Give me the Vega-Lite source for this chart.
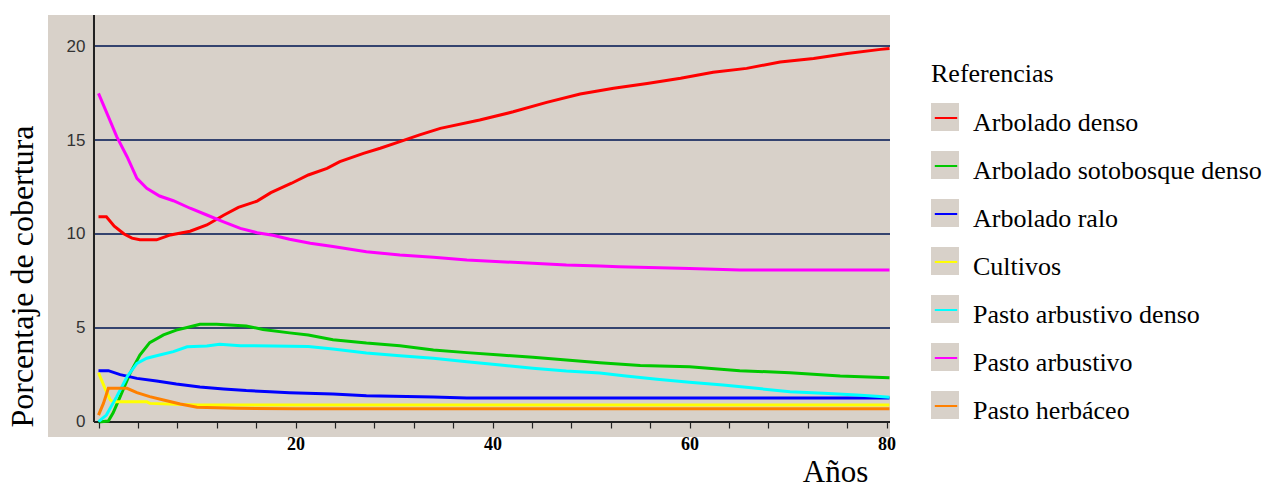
{
  "$schema": "https://vega.github.io/schema/vega-lite/v6.json",
  "width": 842,
  "height": 422,
  "autosize": {"type": "none"},
  "padding": {"left": 48, "top": 15, "right": 381, "bottom": 50},
  "background": "white",
  "config": {"view": {"fill": "#d8d1c9", "stroke": null}},
  "datasets": {
    "grid": [{"g": 5}, {"g": 10}, {"g": 15}, {"g": 20}],
    "series": [
      {"s": "Arbolado denso", "yr": 0, "v": 10.92}, {"s": "Arbolado denso", "yr": 0.8, "v": 10.92}, {"s": "Arbolado denso", "yr": 1.6, "v": 10.42}, {"s": "Arbolado denso", "yr": 2.6, "v": 10.0}, {"s": "Arbolado denso", "yr": 3.4, "v": 9.78}, {"s": "Arbolado denso", "yr": 4.2, "v": 9.69}, {"s": "Arbolado denso", "yr": 5.9, "v": 9.69}, {"s": "Arbolado denso", "yr": 7.3, "v": 9.95}, {"s": "Arbolado denso", "yr": 9.3, "v": 10.15}, {"s": "Arbolado denso", "yr": 11, "v": 10.48}, {"s": "Arbolado denso", "yr": 12.7, "v": 11.0}, {"s": "Arbolado denso", "yr": 14.2, "v": 11.42}, {"s": "Arbolado denso", "yr": 16.1, "v": 11.75}, {"s": "Arbolado denso", "yr": 17.5, "v": 12.2}, {"s": "Arbolado denso", "yr": 19.6, "v": 12.7}, {"s": "Arbolado denso", "yr": 21.3, "v": 13.14}, {"s": "Arbolado denso", "yr": 23.2, "v": 13.49}, {"s": "Arbolado denso", "yr": 24.5, "v": 13.85}, {"s": "Arbolado denso", "yr": 26.9, "v": 14.29}, {"s": "Arbolado denso", "yr": 28.6, "v": 14.56}, {"s": "Arbolado denso", "yr": 30.6, "v": 14.91}, {"s": "Arbolado denso", "yr": 32.6, "v": 15.27}, {"s": "Arbolado denso", "yr": 34.7, "v": 15.62}, {"s": "Arbolado denso", "yr": 38.7, "v": 16.06}, {"s": "Arbolado denso", "yr": 42.1, "v": 16.5}, {"s": "Arbolado denso", "yr": 45.5, "v": 17.0}, {"s": "Arbolado denso", "yr": 48.9, "v": 17.45}, {"s": "Arbolado denso", "yr": 52.3, "v": 17.75}, {"s": "Arbolado denso", "yr": 55.7, "v": 18.01}, {"s": "Arbolado denso", "yr": 59.1, "v": 18.28}, {"s": "Arbolado denso", "yr": 62.4, "v": 18.6}, {"s": "Arbolado denso", "yr": 65.8, "v": 18.81}, {"s": "Arbolado denso", "yr": 69.2, "v": 19.15}, {"s": "Arbolado denso", "yr": 72.6, "v": 19.34}, {"s": "Arbolado denso", "yr": 76, "v": 19.6}, {"s": "Arbolado denso", "yr": 79.4, "v": 19.82}, {"s": "Arbolado denso", "yr": 80.3, "v": 19.87},
      {"s": "Arbolado sotobosque denso", "yr": 0, "v": 0}, {"s": "Arbolado sotobosque denso", "yr": 1, "v": 0.05}, {"s": "Arbolado sotobosque denso", "yr": 1.5, "v": 0.5}, {"s": "Arbolado sotobosque denso", "yr": 2.2, "v": 1.35}, {"s": "Arbolado sotobosque denso", "yr": 3.2, "v": 2.59}, {"s": "Arbolado sotobosque denso", "yr": 4.2, "v": 3.56}, {"s": "Arbolado sotobosque denso", "yr": 5.2, "v": 4.22}, {"s": "Arbolado sotobosque denso", "yr": 6.6, "v": 4.63}, {"s": "Arbolado sotobosque denso", "yr": 7.9, "v": 4.89}, {"s": "Arbolado sotobosque denso", "yr": 9.3, "v": 5.07}, {"s": "Arbolado sotobosque denso", "yr": 10.3, "v": 5.2}, {"s": "Arbolado sotobosque denso", "yr": 12, "v": 5.2}, {"s": "Arbolado sotobosque denso", "yr": 15, "v": 5.11}, {"s": "Arbolado sotobosque denso", "yr": 16.7, "v": 4.92}, {"s": "Arbolado sotobosque denso", "yr": 19.4, "v": 4.74}, {"s": "Arbolado sotobosque denso", "yr": 21.3, "v": 4.63}, {"s": "Arbolado sotobosque denso", "yr": 23.8, "v": 4.38}, {"s": "Arbolado sotobosque denso", "yr": 27.2, "v": 4.2}, {"s": "Arbolado sotobosque denso", "yr": 30.6, "v": 4.06}, {"s": "Arbolado sotobosque denso", "yr": 34, "v": 3.83}, {"s": "Arbolado sotobosque denso", "yr": 37.4, "v": 3.69}, {"s": "Arbolado sotobosque denso", "yr": 40.8, "v": 3.56}, {"s": "Arbolado sotobosque denso", "yr": 44.1, "v": 3.44}, {"s": "Arbolado sotobosque denso", "yr": 47.5, "v": 3.3}, {"s": "Arbolado sotobosque denso", "yr": 50.9, "v": 3.15}, {"s": "Arbolado sotobosque denso", "yr": 55, "v": 3.0}, {"s": "Arbolado sotobosque denso", "yr": 60, "v": 2.94}, {"s": "Arbolado sotobosque denso", "yr": 65.1, "v": 2.73}, {"s": "Arbolado sotobosque denso", "yr": 70.2, "v": 2.62}, {"s": "Arbolado sotobosque denso", "yr": 75.3, "v": 2.45}, {"s": "Arbolado sotobosque denso", "yr": 80.3, "v": 2.36},
      {"s": "Arbolado ralo", "yr": 0, "v": 2.73}, {"s": "Arbolado ralo", "yr": 1, "v": 2.73}, {"s": "Arbolado ralo", "yr": 2.2, "v": 2.52}, {"s": "Arbolado ralo", "yr": 3.9, "v": 2.32}, {"s": "Arbolado ralo", "yr": 5.9, "v": 2.18}, {"s": "Arbolado ralo", "yr": 7.9, "v": 2.02}, {"s": "Arbolado ralo", "yr": 10.3, "v": 1.86}, {"s": "Arbolado ralo", "yr": 12.7, "v": 1.76}, {"s": "Arbolado ralo", "yr": 15, "v": 1.67}, {"s": "Arbolado ralo", "yr": 17.4, "v": 1.61}, {"s": "Arbolado ralo", "yr": 19.4, "v": 1.56}, {"s": "Arbolado ralo", "yr": 23.8, "v": 1.49}, {"s": "Arbolado ralo", "yr": 27.2, "v": 1.4}, {"s": "Arbolado ralo", "yr": 34, "v": 1.33}, {"s": "Arbolado ralo", "yr": 37.4, "v": 1.27}, {"s": "Arbolado ralo", "yr": 80.3, "v": 1.27},
      {"s": "Cultivos", "yr": 0, "v": 2.62}, {"s": "Cultivos", "yr": 0.66, "v": 1.79}, {"s": "Cultivos", "yr": 1.2, "v": 1.17}, {"s": "Cultivos", "yr": 1.5, "v": 1.08}, {"s": "Cultivos", "yr": 4.9, "v": 1.08}, {"s": "Cultivos", "yr": 5.2, "v": 0.99}, {"s": "Cultivos", "yr": 10, "v": 0.9}, {"s": "Cultivos", "yr": 80.3, "v": 0.9},
      {"s": "Pasto arbustivo denso", "yr": 0, "v": 0.02}, {"s": "Pasto arbustivo denso", "yr": 0.8, "v": 0.37}, {"s": "Pasto arbustivo denso", "yr": 1.85, "v": 1.35}, {"s": "Pasto arbustivo denso", "yr": 2.9, "v": 2.41}, {"s": "Pasto arbustivo denso", "yr": 3.9, "v": 3.12}, {"s": "Pasto arbustivo denso", "yr": 4.9, "v": 3.39}, {"s": "Pasto arbustivo denso", "yr": 6.2, "v": 3.56}, {"s": "Pasto arbustivo denso", "yr": 7.6, "v": 3.74}, {"s": "Pasto arbustivo denso", "yr": 9, "v": 4.0}, {"s": "Pasto arbustivo denso", "yr": 11, "v": 4.04}, {"s": "Pasto arbustivo denso", "yr": 12.3, "v": 4.13}, {"s": "Pasto arbustivo denso", "yr": 14.4, "v": 4.06}, {"s": "Pasto arbustivo denso", "yr": 17.7, "v": 4.04}, {"s": "Pasto arbustivo denso", "yr": 21.3, "v": 4.01}, {"s": "Pasto arbustivo denso", "yr": 23.8, "v": 3.88}, {"s": "Pasto arbustivo denso", "yr": 27.2, "v": 3.67}, {"s": "Pasto arbustivo denso", "yr": 30.6, "v": 3.53}, {"s": "Pasto arbustivo denso", "yr": 34, "v": 3.39}, {"s": "Pasto arbustivo denso", "yr": 37.4, "v": 3.21}, {"s": "Pasto arbustivo denso", "yr": 40.8, "v": 3.03}, {"s": "Pasto arbustivo denso", "yr": 44.1, "v": 2.86}, {"s": "Pasto arbustivo denso", "yr": 47.5, "v": 2.71}, {"s": "Pasto arbustivo denso", "yr": 50.9, "v": 2.6}, {"s": "Pasto arbustivo denso", "yr": 53.3, "v": 2.46}, {"s": "Pasto arbustivo denso", "yr": 56.7, "v": 2.27}, {"s": "Pasto arbustivo denso", "yr": 60, "v": 2.11}, {"s": "Pasto arbustivo denso", "yr": 63.4, "v": 1.97}, {"s": "Pasto arbustivo denso", "yr": 66.8, "v": 1.79}, {"s": "Pasto arbustivo denso", "yr": 70.2, "v": 1.61}, {"s": "Pasto arbustivo denso", "yr": 73.6, "v": 1.53}, {"s": "Pasto arbustivo denso", "yr": 77, "v": 1.44}, {"s": "Pasto arbustivo denso", "yr": 79.3, "v": 1.35}, {"s": "Pasto arbustivo denso", "yr": 80.3, "v": 1.31},
      {"s": "Pasto arbustivo", "yr": 0, "v": 17.48}, {"s": "Pasto arbustivo", "yr": 1, "v": 16.24}, {"s": "Pasto arbustivo", "yr": 1.85, "v": 15.18}, {"s": "Pasto arbustivo", "yr": 2.9, "v": 14.11}, {"s": "Pasto arbustivo", "yr": 3.9, "v": 12.96}, {"s": "Pasto arbustivo", "yr": 4.9, "v": 12.43}, {"s": "Pasto arbustivo", "yr": 6.2, "v": 12.02}, {"s": "Pasto arbustivo", "yr": 7.6, "v": 11.77}, {"s": "Pasto arbustivo", "yr": 9.3, "v": 11.37}, {"s": "Pasto arbustivo", "yr": 11, "v": 11.01}, {"s": "Pasto arbustivo", "yr": 12.7, "v": 10.65}, {"s": "Pasto arbustivo", "yr": 14.4, "v": 10.3}, {"s": "Pasto arbustivo", "yr": 16.1, "v": 10.07}, {"s": "Pasto arbustivo", "yr": 17.7, "v": 9.93}, {"s": "Pasto arbustivo", "yr": 19.4, "v": 9.72}, {"s": "Pasto arbustivo", "yr": 21.5, "v": 9.51}, {"s": "Pasto arbustivo", "yr": 23.8, "v": 9.33}, {"s": "Pasto arbustivo", "yr": 27.2, "v": 9.06}, {"s": "Pasto arbustivo", "yr": 30.6, "v": 8.88}, {"s": "Pasto arbustivo", "yr": 34, "v": 8.76}, {"s": "Pasto arbustivo", "yr": 37.4, "v": 8.62}, {"s": "Pasto arbustivo", "yr": 40.8, "v": 8.53}, {"s": "Pasto arbustivo", "yr": 44.1, "v": 8.44}, {"s": "Pasto arbustivo", "yr": 47.5, "v": 8.35}, {"s": "Pasto arbustivo", "yr": 50.9, "v": 8.3}, {"s": "Pasto arbustivo", "yr": 52.8, "v": 8.26}, {"s": "Pasto arbustivo", "yr": 60, "v": 8.17}, {"s": "Pasto arbustivo", "yr": 65.1, "v": 8.09}, {"s": "Pasto arbustivo", "yr": 80.3, "v": 8.09},
      {"s": "Pasto herbáceo", "yr": 0, "v": 0.37}, {"s": "Pasto herbáceo", "yr": 0.5, "v": 0.99}, {"s": "Pasto herbáceo", "yr": 1, "v": 1.79}, {"s": "Pasto herbáceo", "yr": 2.9, "v": 1.79}, {"s": "Pasto herbáceo", "yr": 3.9, "v": 1.56}, {"s": "Pasto herbáceo", "yr": 5.2, "v": 1.35}, {"s": "Pasto herbáceo", "yr": 6.6, "v": 1.17}, {"s": "Pasto herbáceo", "yr": 8.3, "v": 0.96}, {"s": "Pasto herbáceo", "yr": 10, "v": 0.78}, {"s": "Pasto herbáceo", "yr": 14, "v": 0.73}, {"s": "Pasto herbáceo", "yr": 20, "v": 0.7}, {"s": "Pasto herbáceo", "yr": 80.3, "v": 0.7}
    ]
  },
  "layer": [
    {
      "data": {"name": "grid"},
      "mark": {"type": "rule", "color": "#34436f", "strokeWidth": 2},
      "encoding": {
        "y": {"field": "g", "type": "quantitative"},
        "x": {"datum": -0.457},
        "x2": {"datum": 80.355}
      }
    },
    {
      "data": {"name": "grid"},
      "mark": {"type": "rule", "color": "#222222", "strokeWidth": 2},
      "encoding": {
        "x": {"datum": -0.457},
        "y": {"datum": 0},
        "y2": {"datum": 21.649}
      }
    },
    {
      "data": {"name": "grid"},
      "mark": {"type": "rule", "color": "#222222", "strokeWidth": 2},
      "encoding": {
        "y": {"datum": 0},
        "x": {"datum": -0.457},
        "x2": {"datum": 80.355}
      }
    },
    {
      "data": {"name": "series"},
      "mark": {"type": "point", "filled": true, "shape": "square", "size": 0},
      "encoding": {
        "x": {"field": "yr", "type": "quantitative"},
        "y": {"field": "v", "type": "quantitative"},
        "fill": {
          "field": "s",
          "type": "nominal",
          "scale": {"range": ["#d8d1c9", "#d8d1c9", "#d8d1c9", "#d8d1c9", "#d8d1c9", "#d8d1c9", "#d8d1c9"]},
          "legend": {
            "orient": "none", "legendX": 883, "legendY": 46, "direction": "vertical", "columns": 1,
            "padding": 0, "offset": 0,
            "title": " ", "titleFont": "Liberation Serif", "titleFontSize": 26, "titleFontWeight": "normal", "titleColor": "black", "titlePadding": 16,
            "labelExpr": "' '",
            "labelFont": "Liberation Serif", "labelFontSize": 26, "labelColor": "black", "labelLimit": 400, "labelOffset": 12,
            "labelBaseline": "middle",
            "symbolType": "M-1,-1.43H1V0.57H-1Z", "symbolSize": 784, "symbolStrokeWidth": 0, "symbolOpacity": 1,
            "clipHeight": 40, "rowPadding": 8, "zindex": 1
          }
        }
      }
    },
    {
      "data": {"name": "series"},
      "mark": {"type": "line", "strokeWidth": 3, "clip": true},
      "encoding": {
        "x": {
          "field": "yr", "type": "quantitative",
          "scale": {"domain": [-5.127, 80.355], "nice": false, "zero": false},
          "axis": {
            "orient": "bottom", "offset": -15,
            "values": [0,1,2,3,4,5,6,7,8,9,10,11,12,13,14,15,16,17,18,19,20,21,22,23,24,25,26,27,28,29,30,31,32,33,34,35,36,37,38,39,40,41,42,43,44,45,46,47,48,49,50,51,52,53,54,55,56,57,58,59,60,61,62,63,64,65,66,67,68,69,70,71,72,73,74,75,76,77,78,79,80],
            "domain": false, "grid": false, "ticks": true, "tickSize": 6, "tickColor": "#222222", "tickWidth": 1.2,
            "labelExpr": "datum.value % 20 == 0 && datum.value > 0 ? datum.label : ''",
            "labelFont": "Liberation Serif", "labelFontWeight": "bold", "labelFontSize": 18, "labelColor": "black",
            "labelPadding": 7, "labelOverlap": false, "labelFlush": true,
            "title": "Años", "titleFont": "Liberation Serif", "titleFontSize": 31, "titleFontWeight": "normal", "titleColor": "black",
            "titleX": 787, "titleY": 59, "titleBaseline": "alphabetic", "titleAlign": "center", "zindex": 1
          }
        },
        "y": {
          "field": "v", "type": "quantitative",
          "scale": {"domain": [-0.798, 21.649], "nice": false, "zero": false},
          "axis": {
            "orient": "left", "offset": -46, "values": [0, 5, 10, 15, 20],
            "domain": false, "grid": false, "ticks": false, "tickSize": 0,
            "labelFont": "Liberation Sans", "labelFontSize": 17, "labelColor": "#333333", "labelPadding": 9,
            "title": "Porcentaje de cobertura", "titleFont": "Liberation Serif", "titleFontSize": 32, "titleFontWeight": "normal", "titleColor": "black",
            "titleX": -72, "titleY": 261, "titleAngle": -90, "titleAlign": "center", "titleBaseline": "middle", "zindex": 1
          }
        },
        "stroke": {
          "field": "s", "type": "nominal",
          "scale": {
            "domain": ["Arbolado denso", "Arbolado sotobosque denso", "Arbolado ralo", "Cultivos", "Pasto arbustivo denso", "Pasto arbustivo", "Pasto herbáceo"],
            "range": ["#ff0000", "#00c800", "#0000ff", "#ffff00", "#00ffff", "#ff00ff", "#ff8000"]
          },
          "legend": {
            "orient": "none", "legendX": 883, "legendY": 46, "direction": "vertical", "columns": 1,
            "padding": 0, "offset": 0,
            "title": "Referencias", "titleFont": "Liberation Serif", "titleFontSize": 26, "titleFontWeight": "normal", "titleColor": "black", "titlePadding": 16,
            "labelFont": "Liberation Serif", "labelFontSize": 26, "labelColor": "black", "labelLimit": 400, "labelOffset": 12,
            "labelBaseline": "middle",
            "symbolType": "M-0.8,-0.36H0.8", "symbolSize": 784, "symbolStrokeWidth": 2, "symbolFillColor": "transparent",
            "clipHeight": 40, "rowPadding": 8, "zindex": 2
          }
        }
      }
    }
  ]
}
